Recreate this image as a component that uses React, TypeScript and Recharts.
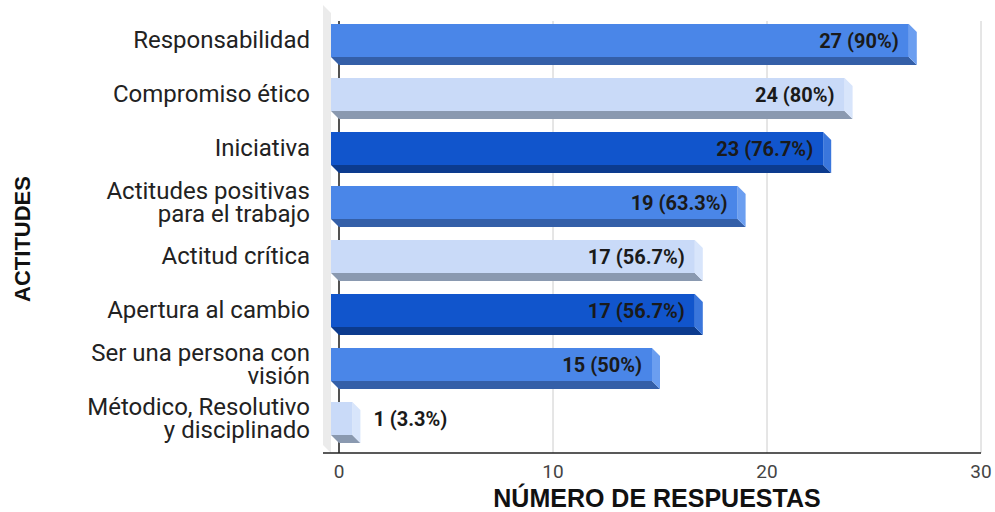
import { BarChart, Bar, XAxis, YAxis, CartesianGrid, LabelList, Customized } from 'recharts'

const actitudes = [
  'Responsabilidad',
  'Compromiso ético',
  'Iniciativa',
  'Actitudes positivas\npara el trabajo',
  'Actitud crítica',
  'Apertura al cambio',
  'Ser una persona con\nvisión',
  'Métodico, Resolutivo\ny disciplinado',
]
const respuestas = [27, 24, 23, 19, 17, 17, 15, 1]
const porcentajes = [90, 80, 76.7, 63.3, 56.7, 56.7, 50, 3.3]
const tonos = ['medio', 'claro', 'oscuro', 'medio', 'claro', 'oscuro', 'medio', 'claro']
const ticksX = [0, 10, 20, 30]

// colores de cada cara del bloque 3D
const paleta: Record<string, { frente: string; abajo: string; lado: string }> = {
  medio: { frente: '#4a86e8', abajo: '#345fa8', lado: '#6b9ef0' },
  claro: { frente: '#c9daf8', abajo: '#8a99b0', lado: '#d8e5fb' },
  oscuro: { frente: '#1155cc', abajo: '#0c3b8e', lado: '#3a76dc' },
}

const data = actitudes.map((actitud, i) => ({
  actitud,
  respuestas: respuestas[i],
  pct: porcentajes[i],
  tono: tonos[i],
}))

const W = 995
const H = 512
const TOP = 21
const LEFT = 339
const RIGHT = 981
const BOTTOM = 453
const DEPTH = 8

function Bloque3D(props: any) {
  const { x, y, width, height, index } = props
  const c = paleta[data[index].tono]
  const fx = x - DEPTH
  const fy = y - DEPTH
  return (
    <g>
      <polygon
        points={`${fx},${fy + height} ${fx + width},${fy + height} ${x + width},${y + height} ${x},${y + height}`}
        fill={c.abajo}
      />
      <polygon
        points={`${fx + width},${fy} ${x + width},${y} ${x + width},${y + height} ${fx + width},${fy + height}`}
        fill={c.lado}
      />
      <rect x={fx} y={fy} width={width} height={height} fill={c.frente} />
    </g>
  )
}

function Etiqueta(props: any) {
  const { x, y, width, height, index } = props
  const d = data[index]
  const txt = `${d.respuestas} (${d.pct}%)`
  const cy = y - DEPTH + height / 2
  const dentro = width > 100
  return (
    <text
      x={dentro ? x - DEPTH + width - 10 : x + width + 13}
      y={cy}
      textAnchor={dentro ? 'end' : 'start'}
      dominantBaseline="central"
      fontFamily="Roboto"
      fontWeight="bold"
      fontSize={20}
      fill="#1a1a1a"
    >
      {txt}
    </text>
  )
}

function CategoriaTick(props: any) {
  const { x, y, payload } = props
  const lineas = String(payload.value).split('\n')
  const lh = 23
  const y0 = y - DEPTH - ((lineas.length - 1) * lh) / 2
  return (
    <text
      textAnchor="end"
      dominantBaseline="central"
      fontFamily="Roboto"
      fontSize={24}
      fill="#222"
    >
      {lineas.map((l, i) => (
        <tspan key={i} x={x} y={y0 + i * lh}>
          {l}
        </tspan>
      ))}
    </text>
  )
}

function Decoracion() {
  return (
    <g>
      {/* pared lateral izquierda */}
      <polygon
        points={`${LEFT - 2 * DEPTH},${TOP - 2 * DEPTH} ${LEFT - DEPTH},${TOP - DEPTH} ${LEFT - DEPTH},${BOTTOM} ${LEFT - 2 * DEPTH},${BOTTOM - DEPTH}`}
        fill="#ebebeb"
      />
      <line x1={LEFT - 2 * DEPTH} x2={RIGHT} y1={BOTTOM} y2={BOTTOM} stroke="#222" strokeWidth={1.5} />
      <text
        x={22}
        y={239}
        transform="rotate(-90 22 239)"
        textAnchor="middle"
        dominantBaseline="central"
        fontFamily="Liberation Sans, Arial"
        fontWeight="bold"
        fontSize={22}
        fill="#111"
      >
        ACTITUDES
      </text>
      <text
        x={657}
        y={498}
        textAnchor="middle"
        dominantBaseline="central"
        fontFamily="Liberation Sans, Arial"
        fontWeight="bold"
        fontSize={25}
        fill="#111"
      >
        NÚMERO DE RESPUESTAS
      </text>
    </g>
  )
}

export default function App() {
  return (
    <div style={{ position: 'absolute', left: 0, top: 0, width: W, height: H, background: '#fff' }}>
      <BarChart
        width={W}
        height={H}
        data={data}
        layout="vertical"
        margin={{ top: TOP, right: W - RIGHT, bottom: 0, left: 0 }}
        barSize={33}
      >
        <CartesianGrid horizontal={false} stroke="#cccccc" />
        <CartesianGrid horizontal={false} stroke="#222" strokeWidth={1.5} verticalCoordinatesGenerator={() => [LEFT]} />
        <XAxis
          type="number"
          dataKey="respuestas"
          domain={[0, 30]}
          ticks={ticksX}
          height={H - BOTTOM}
          axisLine={false}
          tickLine={false}
          tickMargin={6}
          tick={{ fill: '#444', fontSize: 19, fontFamily: 'Roboto' }}
        />
        <YAxis
          type="category"
          dataKey="actitud"
          width={LEFT}
          axisLine={false}
          tickLine={false}
          tickSize={0}
          tickMargin={29}
          tick={<CategoriaTick />}
          interval={0}
        />
        <Bar dataKey="respuestas" shape={<Bloque3D />} isAnimationActive={false}>
          <LabelList dataKey="respuestas" content={<Etiqueta />} />
        </Bar>
        <Customized component={<Decoracion />} />
      </BarChart>
    </div>
  )
}
